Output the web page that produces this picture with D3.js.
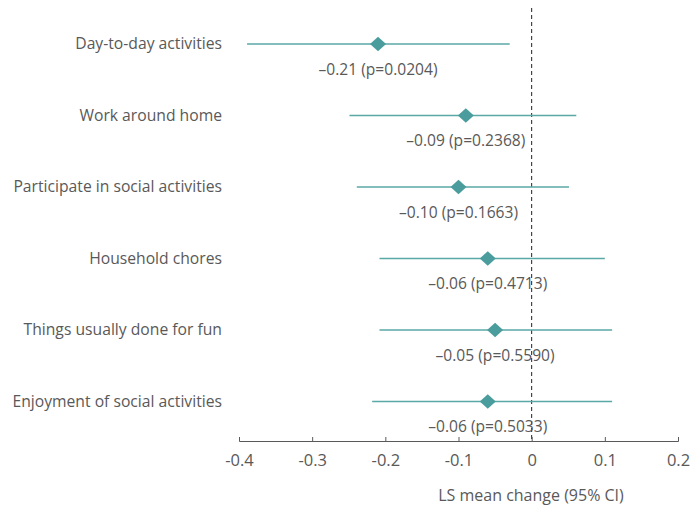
<!DOCTYPE html>
<html>
<head>
<meta charset="utf-8">
<script src="https://cdn.jsdelivr.net/npm/d3@7"></script>
<style>
  html, body { margin: 0; padding: 0; background: #fff; }
  svg text { font-family: "Open Sans", "Noto Sans", sans-serif; fill: #595959; }
</style>
</head>
<body>
<svg id="chart" width="691" height="508"></svg>
<script>
// Outcome measures (top to bottom)
const outcomes = [
  "Day-to-day activities",
  "Work around home",
  "Participate in social activities",
  "Household chores",
  "Things usually done for fun",
  "Enjoyment of social activities"
];
// LS mean change estimates
const estimates = [-0.21, -0.09, -0.10, -0.06, -0.05, -0.06];
// 95% confidence limits
const lowerCI = [-0.389, -0.249, -0.239, -0.208, -0.208, -0.218];
const upperCI = [-0.030, 0.061, 0.051, 0.100, 0.110, 0.110];
// p-values and displayed estimate labels
const pValues = ["0.0204", "0.2368", "0.1663", "0.4713", "0.5590", "0.5033"];
const estLabels = ["–0.21", "–0.09", "–0.10", "–0.06", "–0.05", "–0.06"];
// Axis ticks
const xTicks = [-0.4, -0.3, -0.2, -0.1, 0, 0.1, 0.2];
const xTickLabels = ["-0.4", "-0.3", "-0.2", "-0.1", "0", "0.1", "0.2"];

const rows = outcomes.map((o, i) => ({
  name: o, est: estimates[i], lo: lowerCI[i], hi: upperCI[i],
  label: estLabels[i] + " (p=" + pValues[i] + ")"
}));

const svg = d3.select("#chart");
const x = d3.scaleLinear().domain([-0.4, 0.2]).range([239, 678]);
const y = d3.scalePoint().domain(outcomes).range([44, 401.5]);
const axisY = 441;
const teal = "#4a9d9c";

// Slightly wide diamond marker
const wideDiamond = {
  draw(ctx, size) {
    const rx = Math.sqrt(size) * 0.5, ry = rx * 0.92;
    ctx.moveTo(0, -ry); ctx.lineTo(rx, 0); ctx.lineTo(0, ry); ctx.lineTo(-rx, 0); ctx.closePath();
  }
};

// Zero reference line
svg.append("line")
  .attr("x1", x(0)).attr("x2", x(0))
  .attr("y1", 8).attr("y2", axisY)
  .attr("stroke", "#222").attr("stroke-width", 1)
  .attr("stroke-dasharray", "4,3");

// X axis with ticks pointing up
const axis = d3.axisTop(x).tickValues(xTicks).tickSize(4)
  .tickFormat((d, i) => xTickLabels[i]);
const gx = svg.append("g").attr("transform", `translate(0,${axisY})`).call(axis);
gx.select(".domain").attr("stroke", "#595959");
gx.selectAll(".tick line").attr("stroke", "#595959");
gx.selectAll(".tick text")
  .attr("y", 20).attr("dy", "0.32em")
  .style("font-size", "16.5px")
  .style("font-family", "Open Sans, sans-serif")
  .attr("fill", "#595959");

// Axis title
svg.append("text")
  .attr("x", 531).attr("y", 496).attr("dy", "0.32em")
  .attr("text-anchor", "middle")
  .style("font-size", "16px")
  .text("LS mean change (95% CI)");

// Category labels
svg.append("g").selectAll("text").data(rows).join("text")
  .attr("x", 222).attr("y", d => y(d.name)).attr("dy", "0.32em")
  .attr("text-anchor", "end")
  .style("font-size", "15.7px")
  .text(d => d.name);

// Confidence interval lines
svg.append("g").selectAll("line").data(rows).join("line")
  .attr("x1", d => x(d.lo)).attr("x2", d => x(d.hi))
  .attr("y1", d => y(d.name)).attr("y2", d => y(d.name))
  .attr("stroke", "#5aa9a7").attr("stroke-width", 1.3);

// Point estimates as diamonds
svg.append("g").selectAll("path").data(rows).join("path")
  .attr("transform", d => `translate(${x(d.est)},${y(d.name)})`)
  .attr("d", d3.symbol().type(wideDiamond).size(256))
  .attr("fill", teal);

// Estimate labels
svg.append("g").selectAll("text").data(rows).join("text")
  .attr("x", d => x(d.est)).attr("y", d => y(d.name) + 26).attr("dy", "0.32em")
  .attr("text-anchor", "middle")
  .style("font-size", "15.6px")
  .text(d => d.label);
</script>
</body>
</html>
